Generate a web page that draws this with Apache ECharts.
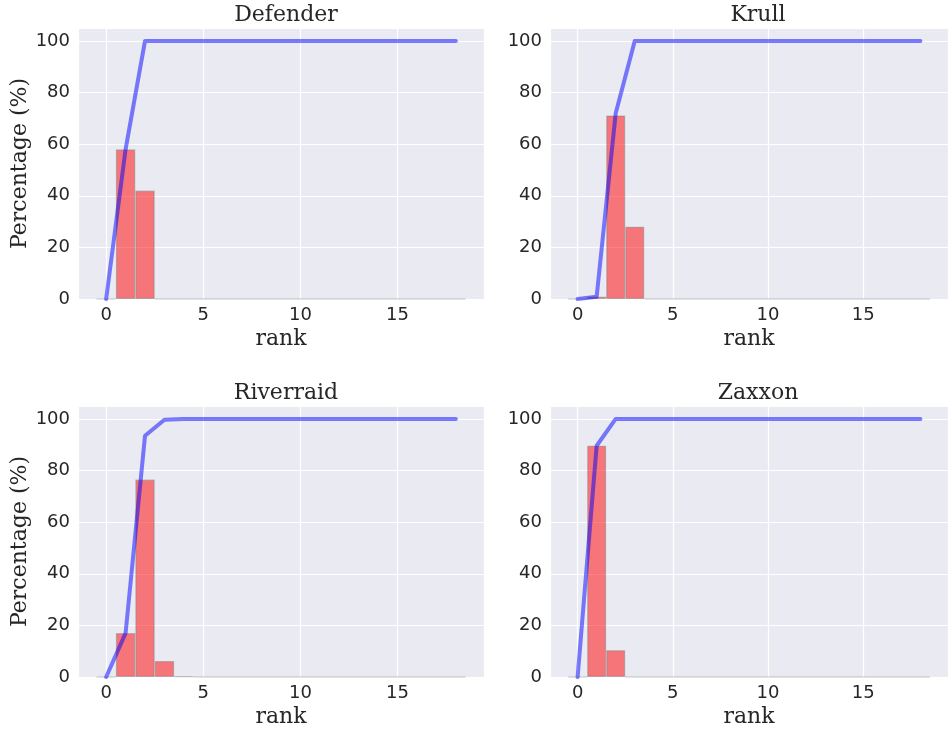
<!DOCTYPE html>
<html>
<head>
<meta charset="utf-8">
<script src="https://cdn.jsdelivr.net/npm/echarts@6/dist/echarts.min.js"></script>
<style>
html,body{margin:0;padding:0;background:#fff;}
#chart{width:948px;height:730px;}
</style>
</head>
<body>
<div id="chart"></div>
<script>
// ---- data ----
const ranks = [0,1,2,3,4,5,6,7,8,9,10,11,12,13,14,15,16,17,18];
const games = ['Defender','Krull','Riverraid','Zaxxon'];
const defenderPct = [0,58,42,0,0,0,0,0,0,0,0,0,0,0,0,0,0,0,0];
const defenderCum = [0,58,100,100,100,100,100,100,100,100,100,100,100,100,100,100,100,100,100];
const krullPct = [0,0.9,71.1,28.0,0,0,0,0,0,0,0,0,0,0,0,0,0,0,0];
const krullCum = [0,0.9,72,100,100,100,100,100,100,100,100,100,100,100,100,100,100,100,100];
const riverraidPct = [0,17.0,76.5,6.2,0.3,0,0,0,0,0,0,0,0,0,0,0,0,0,0];
const riverraidCum = [0,17.0,93.5,99.7,100,100,100,100,100,100,100,100,100,100,100,100,100,100,100];
const zaxxonPct = [0,89.6,10.4,0,0,0,0,0,0,0,0,0,0,0,0,0,0,0,0];
const zaxxonCum = [0,89.6,100,100,100,100,100,100,100,100,100,100,100,100,100,100,100,100,100];
const yTicks = [0,20,40,60,80,100];
const xTicks = [0,5,10,15];
const xLabel = 'rank';
const yLabel = 'Percentage (%)';

const pctSets = [defenderPct, krullPct, riverraidPct, zaxxonPct];
const cumSets = [defenderCum, krullCum, riverraidCum, zaxxonCum];

// ---- layout ----
const gridPos = [
  {left:78, top:28},
  {left:550, top:28},
  {left:78, top:406},
  {left:550, top:406}
];
const gw = 406, gh = 271;
const dark = '#262626';
const sans = 'DejaVu Sans';
const serif = 'DejaVu Serif';

const option = {
  backgroundColor:'#ffffff',
  animation:false,
  title: games.map((g,i)=>({
    text:g,
    left: gridPos[i].left + gw/2,
    top: gridPos[i].top - 29,
    textAlign:'center',
    textStyle:{fontFamily:serif,fontSize:22,fontWeight:'normal',color:dark}
  })),
  grid: gridPos.map(p=>({left:p.left, top:p.top, width:gw, height:gh, show:true, backgroundColor:'#EAEAF2', borderWidth:0})),
  xAxis: gridPos.map((p,i)=>({
    type:'value', gridIndex:i, min:-1.45, max:19.45, minInterval:5, maxInterval:5,
    name:xLabel, nameLocation:'middle', nameGap:29,
    nameTextStyle:{fontFamily:serif,fontSize:22,color:dark},
    axisLine:{show:false}, axisTick:{show:false},
    axisLabel:{fontFamily:sans,fontSize:18,color:dark,margin:7,
      showMinLabel:false, showMaxLabel:false,
      formatter:v=> xTicks.indexOf(Math.round(v*1000)/1000)>=0 ? String(v) : ''},
    splitLine:{show:true,lineStyle:{color:'#ffffff',width:1.2}}
  })),
  yAxis: gridPos.map((p,i)=>({
    type:'value', gridIndex:i, min:0, max:105, interval:20,
    name:(i%2===0)?yLabel:'', nameLocation:'middle', nameGap:43,
    nameTextStyle:{fontFamily:serif,fontSize:22,color:dark},
    axisLine:{show:false}, axisTick:{show:false},
    axisLabel:{fontFamily:sans,fontSize:18,color:dark,margin:8,
      showMaxLabel:false,
      formatter:v=> yTicks.indexOf(v)>=0 ? String(v) : ''},
    splitLine:{show:true,lineStyle:{color:'#ffffff',width:1.2}}
  })),
  series: []
};

games.forEach((g,i)=>{
  option.series.push({
    type:'bar', name:g+' pct', xAxisIndex:i, yAxisIndex:i,
    data: ranks.map((r,k)=>[r, pctSets[i][k]]),
    barWidth:'100%',
    itemStyle:{color:'rgba(255,0,0,0.5)', borderColor:'rgba(128,128,128,0.45)', borderWidth:1.2},
    z:2
  });
  option.series.push({
    type:'line', name:g+' cum', xAxisIndex:i, yAxisIndex:i,
    data: ranks.map((r,k)=>[r, cumSets[i][k]]),
    showSymbol:false, symbol:'none',
    lineStyle:{color:'rgba(0,0,255,0.5)', width:4, cap:'round', join:'round'},
    clip:true,
    z:3
  });
});

const chart = echarts.init(document.getElementById('chart'), null, {renderer:'canvas'});
chart.setOption(option);
</script>
</body>
</html>
